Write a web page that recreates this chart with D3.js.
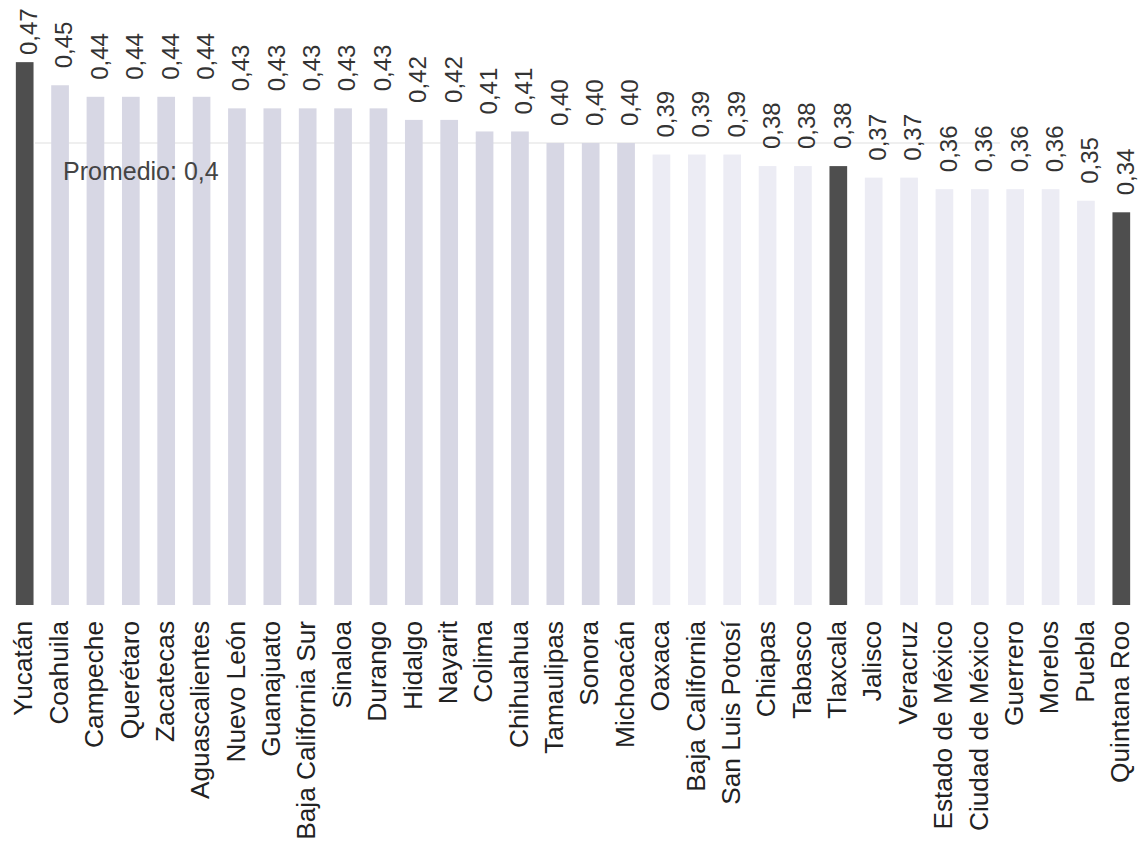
<!DOCTYPE html>
<html>
<head>
<meta charset="utf-8">
<script src="https://cdn.jsdelivr.net/npm/d3@7"></script>
<style>
  html, body { margin: 0; padding: 0; background: #fff; }
  svg { display: block; font-family: "Liberation Sans", Arial, sans-serif; }
</style>
</head>
<body>
<svg id="chart" width="1140" height="841"></svg>
<script>
const categories = ["Yucatán","Coahuila","Campeche","Querétaro","Zacatecas","Aguascalientes","Nuevo León","Guanajuato","Baja California Sur","Sinaloa","Durango","Hidalgo","Nayarit","Colima","Chihuahua","Tamaulipas","Sonora","Michoacán","Oaxaca","Baja California","San Luis Potosí","Chiapas","Tabasco","Tlaxcala","Jalisco","Veracruz","Estado de México","Ciudad de México","Guerrero","Morelos","Puebla","Quintana Roo"];
const values = [0.47,0.45,0.44,0.44,0.44,0.44,0.43,0.43,0.43,0.43,0.43,0.42,0.42,0.41,0.41,0.40,0.40,0.40,0.39,0.39,0.39,0.38,0.38,0.38,0.37,0.37,0.36,0.36,0.36,0.36,0.35,0.34];
const highlighted = ["Yucatán","Tlaxcala","Quintana Roo"];
const promedio = 0.4;
const promedioLabel = "Promedio: 0,4";

const data = categories.map((c, i) => ({ cat: c, val: values[i] }));
const fmt = v => d3.format(".2f")(v).replace(".", ",");

const svg = d3.select("#chart");
const x = d3.scaleBand().domain(categories).range([7, 1139]).paddingInner(0.5).paddingOuter(0.25);
const y = d3.scaleLinear().domain([0, 0.5]).range([605, 27.5]);

// average line
svg.append("line")
  .attr("x1", 35).attr("x2", 1000)
  .attr("y1", y(promedio)).attr("y2", y(promedio))
  .attr("stroke", "#e0e0e0").attr("stroke-width", 1.2);

// bars
svg.append("g").selectAll("rect").data(data).join("rect")
  .attr("x", d => x(d.cat))
  .attr("width", x.bandwidth())
  .attr("y", d => y(d.val))
  .attr("height", d => y(0) - y(d.val))
  .attr("fill", d => highlighted.includes(d.cat) ? "#4e4e4e" : (d.val >= promedio ? "#d7d7e4" : "#ececf4"));

// value labels (kept inside the top edge)
svg.append("g").selectAll("text").data(data).join("text")
  .attr("transform", d => `translate(${x(d.cat) + x.bandwidth() / 2 + 4},${Math.max(y(d.val) - 17, 55)}) rotate(-90)`)
  .attr("dy", "0.35em")
  .attr("text-anchor", "start")
  .attr("font-size", 24)
  .attr("fill", "#333")
  .text(d => fmt(d.val));

// category labels
const xAxis = d3.axisBottom(x).tickSize(0).tickPadding(0);
const gx = svg.append("g").attr("transform", `translate(0,${y(0)})`).call(xAxis);
gx.select(".domain").remove();
gx.selectAll("text")
  .attr("font-size", 25)
  .attr("font-family", "Liberation Sans, Arial, sans-serif")
  .attr("fill", "#222")
  .attr("text-anchor", "end")
  .attr("y", 0)
  .attr("dy", "0.35em")
  .attr("transform", "translate(-1,16) rotate(-90) scale(1.05,1)");

// average label
svg.append("text")
  .attr("x", 63).attr("y", 180)
  .attr("font-size", 25)
  .attr("fill", "#444")
  .text(promedioLabel);
</script>
</body>
</html>
